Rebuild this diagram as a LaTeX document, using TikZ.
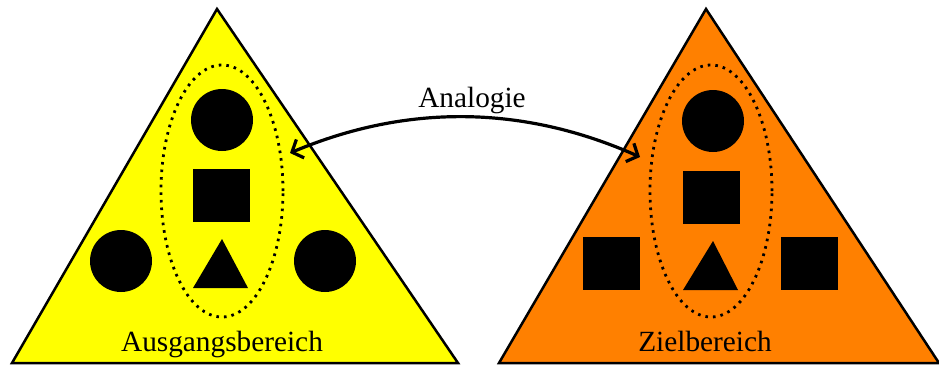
\documentclass[tikz,border=0pt]{standalone}
\usepackage{fontspec}
\setmainfont{Liberation Serif}
\usetikzlibrary{arrows.meta,shapes.geometric}
\begin{document}
\begin{tikzpicture}[x=1pt,y=-1pt,
  tri/.style={draw=black,line width=2.5pt,line join=miter},
  dot/.style={circle,fill=black,minimum size=62pt,inner sep=0pt},
  sq/.style={rectangle,fill=black,minimum width=57pt,minimum height=53pt,inner sep=0pt},
  grp/.style={draw=black,line width=2.8pt,dash pattern=on 2.6pt off 5pt},
  lbl/.style={font=\fontsize{29.3}{35}\selectfont,anchor=base,inner sep=0pt},
  ana/.style={line width=3.2pt,{Straight Barb[length=9pt,width=20pt]}-{Straight Barb[length=9pt,width=20pt]}}
]
\useasboundingbox (0,0) rectangle (939,365);
% left triangle
\filldraw[tri,fill={rgb,255:red,255;green,255;blue,0}] (217,9) -- (458,363) -- (12,363) -- cycle;
% right triangle
\filldraw[tri,fill={rgb,255:red,255;green,128;blue,0}] (706,9) -- (939,363) -- (499,363) -- cycle;
% left contents
\node[grp,ellipse,minimum width=122pt,minimum height=252pt,inner sep=0pt] (gA) at (222,191) {};
\node[dot] (cA) at (222,120) {};
\node[sq] (sA) at (221.5,195.5) {};
\fill (222,239) -- (248,288) -- (193,288) -- cycle;
\node[dot] (lA) at (121,261) {};
\node[dot] (rA) at (325,261) {};
\node[lbl] (tA) at (222,351) {Ausgangsbereich};
% right contents
\node[grp,ellipse,minimum width=122pt,minimum height=252pt,inner sep=0pt] (gB) at (711,191) {};
\node[dot] (cB) at (713,121) {};
\node[sq] (sB) at (711.5,197) {};
\fill (713,241) -- (738,290) -- (683,290) -- cycle;
\node[sq] (lB) at (611.5,263) {};
\node[sq] (rB) at (809,263) {};
\node[lbl] (tB) at (705,351) {Zielbereich};
% analogy arrow
\coordinate (pA) at (290,153);
\coordinate (pB) at (640,157);
\draw[ana] (pA) .. controls (406.7,103.7) and (523.3,105) .. (pB);
\node[lbl] (an) at (472,107) {Analogie};
\end{tikzpicture}
\end{document}
